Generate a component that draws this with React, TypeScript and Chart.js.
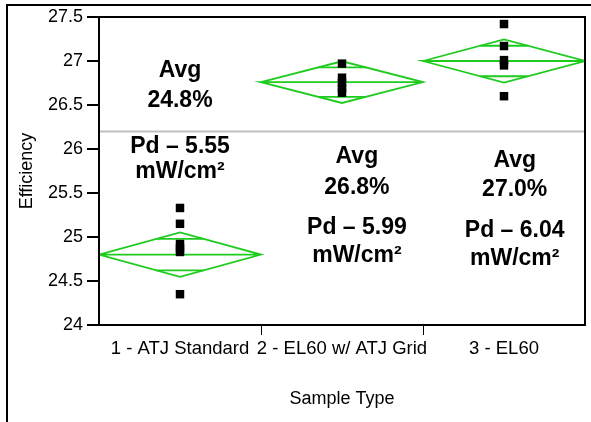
import React, { useEffect, useRef } from 'react';
import { Chart, registerables } from 'chart.js';

Chart.register(...registerables);

// ---- data ----
const categories = ['1 - ATJ Standard', '2 - EL60 w/ ATJ Grid', '3 - EL60'];
const group1Values = [25.33, 25.15, 24.92, 24.87, 24.83, 24.35];
const group2Values = [26.97, 26.81, 26.75, 26.69, 26.64];
const group3Values = [27.42, 27.17, 27.01, 26.95, 26.6];
const groupMeans = [24.8, 26.76, 27.0];
const groupCiHalf = [0.252, 0.237, 0.245];
const yTickValues = [24, 24.5, 25, 25.5, 26, 26.5, 27, 27.5];
const referenceLine = 26.2;
const avgLabels = ['Avg', 'Avg', 'Avg'];
const avgTexts = ['24.8%', '26.8%', '27.0%'];
const pdTexts = ['Pd – 5.55', 'Pd – 5.99', 'Pd – 6.04'];
const unitTexts = ['mW/cm²', 'mW/cm²', 'mW/cm²'];

// ---- layout of annotation text (x in category units, baselines in y units) ----
const annotationLayout = [
  { x: 1.0, ys: [26.822, 26.481, 25.955, 25.67] },
  { x: 2.092, ys: [25.84, 25.489, 25.034, 24.716] },
  { x: 3.066, ys: [25.795, 25.466, 25.0, 24.682] },
];

const GREEN = '#1ecb1e';
const FONT_FAMILY = '"Liberation Sans", Arial, sans-serif';

const groups = [group1Values, group2Values, group3Values];

function diamondData(i: number) {
  const c = i + 1;
  const m = groupMeans[i];
  const h = groupCiHalf[i];
  return [
    { x: c - 0.5, y: m },
    { x: c, y: m + h },
    { x: c + 0.5, y: m },
    { x: c, y: m - h },
    { x: c - 0.5, y: m },
    { x: c + 0.5, y: m },
  ];
}

function overlapData(i: number) {
  const c = i + 1;
  const m = groupMeans[i];
  const k = groupCiHalf[i] / Math.SQRT2;
  const a = 0.5 * (1 - 1 / Math.SQRT2);
  return [
    { x: c - a, y: m + k },
    { x: c + a, y: m + k },
    { x: c, y: null },
    { x: c - a, y: m - k },
    { x: c + a, y: m - k },
  ];
}

const framePlugin = {
  id: 'framePlugin',
  beforeDraw(chart: any) {
    const ctx = chart.ctx;
    ctx.save();
    ctx.fillStyle = '#ffffff';
    ctx.fillRect(0, 0, chart.width, chart.height);
    ctx.restore();
  },
  afterDraw(chart: any) {
    const ctx = chart.ctx;
    const { left, top, right, bottom } = chart.chartArea;
    const xs = chart.scales.x;
    ctx.save();
    ctx.strokeStyle = '#000';
    // outer frame (top + left edges visible)
    ctx.lineWidth = 2;
    ctx.beginPath();
    ctx.moveTo(6, 5);
    ctx.lineTo(chart.width + 5, 5);
    ctx.moveTo(7, 4);
    ctx.lineTo(7, chart.height + 5);
    ctx.stroke();
    // plot box
    ctx.strokeRect(left, top, right - left, bottom - top);
    // x tick marks at category boundaries
    ctx.lineWidth = 1;
    ctx.beginPath();
    for (let i = 1; i < categories.length; i++) {
      const px = Math.round(xs.getPixelForValue(i + 0.5)) + 0.5;
      ctx.moveTo(px, bottom);
      ctx.lineTo(px, bottom + 10);
    }
    ctx.stroke();
    ctx.restore();
  },
  afterDatasetsDraw(chart: any) {
    const ctx = chart.ctx;
    const xs = chart.scales.x;
    const ys = chart.scales.y;
    ctx.save();
    ctx.fillStyle = '#000';
    ctx.font = `bold 23px ${FONT_FAMILY}`;
    ctx.textAlign = 'center';
    ctx.textBaseline = 'alphabetic';
    annotationLayout.forEach((l, i) => {
      const lines = [avgLabels[i], avgTexts[i], pdTexts[i], unitTexts[i]];
      const px = xs.getPixelForValue(l.x);
      lines.forEach((t, k) => {
        ctx.fillText(t, px, ys.getPixelForValue(l.ys[k]));
      });
    });
    ctx.restore();
  },
};

export default function App() {
  const canvasRef = useRef<HTMLCanvasElement | null>(null);

  useEffect(() => {
    document.body.style.margin = '0';
    const canvas = canvasRef.current;
    if (!canvas) return;

    const tickFont = { family: FONT_FAMILY, size: 18 };
    const xTickFont = { family: FONT_FAMILY, size: 18.5 };

    const pointDatasets = groups.map((vals, i) => ({
      label: categories[i],
      data: vals.map((v) => ({ x: i + 1, y: v })),
      showLine: false,
      pointStyle: 'rect',
      pointRadius: 6,
      pointBorderWidth: 0,
      pointBackgroundColor: '#000',
      pointBorderColor: '#000',
      order: 0,
    }));

    const diamondDatasets = groups.map((_, i) => ({
      label: `diamond${i}`,
      data: diamondData(i),
      showLine: true,
      borderColor: GREEN,
      borderWidth: 1.8,
      pointRadius: 0,
      fill: false,
      tension: 0,
      order: 1,
    }));

    const overlapDatasets = groups.map((_, i) => ({
      label: `overlap${i}`,
      data: overlapData(i),
      showLine: true,
      spanGaps: false,
      borderColor: GREEN,
      borderWidth: 1.8,
      pointRadius: 0,
      fill: false,
      order: 1,
    }));

    const refDataset = {
      label: 'ref',
      data: [
        { x: 0.5, y: referenceLine },
        { x: 3.5, y: referenceLine },
      ],
      showLine: true,
      borderColor: '#c0c0c0',
      borderWidth: 2,
      pointRadius: 0,
      order: 2,
    };

    const chart = new Chart(canvas, {
      type: 'scatter',
      data: {
        datasets: [...pointDatasets, ...diamondDatasets, ...overlapDatasets, refDataset] as any,
      },
      options: {
        animation: false,
        responsive: false,
        maintainAspectRatio: false,
        layout: { padding: { left: 0, top: 17, right: 5, bottom: 0 } },
        plugins: {
          legend: { display: false },
          tooltip: { enabled: false },
        },
        scales: {
          x: {
            type: 'linear',
            min: 0.5,
            max: 3.5,
            afterBuildTicks: (s: any) => {
              s.ticks = categories.map((_, i) => ({ value: i + 1 }));
            },
            afterFit: (s: any) => {
              s.height = 97;
            },
            ticks: {
              callback: (v: any) => categories[Math.round(Number(v)) - 1] ?? '',
              maxRotation: 0,
              minRotation: 0,
              autoSkip: false,
              padding: 13,
              color: '#000',
              font: xTickFont,
            },
            grid: { display: true, drawOnChartArea: false, drawTicks: false },
            border: { display: true, color: '#000', width: 2 },
            title: {
              display: true,
              text: 'Sample Type',
              color: '#000',
              font: tickFont,
              padding: { top: 0, bottom: 12 },
            },
          },
          y: {
            type: 'linear',
            min: 24,
            max: 27.5,
            afterBuildTicks: (s: any) => {
              s.ticks = yTickValues.map((v) => ({ value: v }));
            },
            afterFit: (s: any) => {
              s.width = 99;
            },
            ticks: {
              callback: (v: any) => String(v),
              color: '#000',
              font: tickFont,
              padding: 4,
            },
            grid: {
              drawOnChartArea: false,
              drawTicks: true,
              tickLength: 12,
              color: '#000',
              lineWidth: 2,
            },
            border: { display: true, color: '#000', width: 2 },
            title: {
              display: true,
              text: 'Efficiency',
              color: '#000',
              font: tickFont,
              padding: { top: 16, bottom: 0 },
            },
          },
        },
      } as any,
      plugins: [framePlugin],
    });

    return () => {
      chart.destroy();
    };
  }, []);

  return (
    <div style={{ width: 591, height: 422 }}>
      <canvas ref={canvasRef} width={591} height={422} style={{ display: 'block', width: 591, height: 422 }} />
    </div>
  );
}
